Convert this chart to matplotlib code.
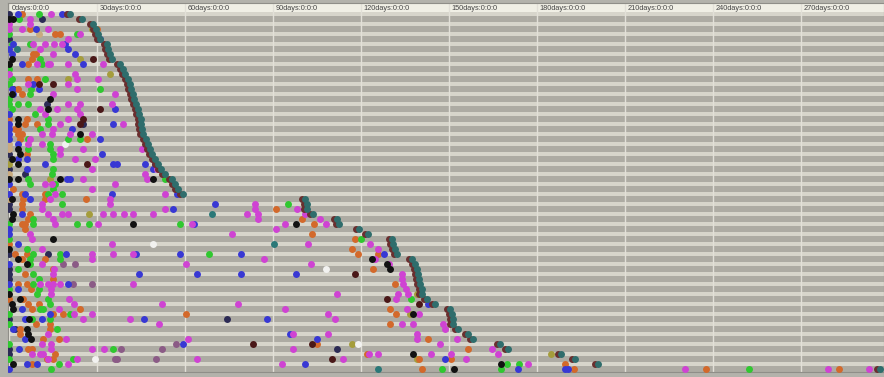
import matplotlib
matplotlib.use("Agg")
import matplotlib.pyplot as plt

# ---- event data: (row, day) pairs per event type ----
magenta_events = [
    (0, 14.3), (1, 7.2), (2, 0), (2, 7.2), (3, 0), (3, 4.4), (3, 13.3), (4, 24.2), (5, 20.1),
    (6, 8.2), (6, 12.3), (6, 15.3), (6, 18.1), (7, 10.6), (8, 15), (10, 9.5), (10, 13.3), (10, 14),
    (10, 20.1), (10, 32), (12, 0), (12, 22.5), (13, 23.2), (13, 30.3), (14, 6.5), (14, 20.1),
    (15, 23.2), (16, 15), (16, 36.1), (18, 20.1), (18, 24.2), (18, 35.1), (19, 10.6), (19, 16.4),
    (19, 23.2), (20, 12.3), (20, 24.2), (21, 20.1), (22, 17.4), (22, 38.9), (23, 15), (24, 11.3),
    (24, 14.7), (24, 20.8), (24, 28.3), (25, 7.2), (26, 6.5), (26, 11.3), (27, 17.4), (27, 25.2),
    (27, 45.4), (28, 17.4), (29, 22.5), (29, 29.3), (31, 28.3), (31, 50.5), (32, 46.4), (33, 25.2),
    (33, 47), (34, 12.3), (34, 14.7), (34, 36.1), (35, 28.3), (36, 15.7), (36, 53.2), (37, 14),
    (37, 34.4), (38, 11.3), (38, 34.4), (38, 83.9), (39, 11.3), (39, 53.2), (39, 83.9), (39, 98.2),
    (40, 13.3), (40, 18.1), (40, 20.1), (40, 32), (40, 35.5), (40, 39.2), (40, 42.3), (40, 49.1),
    (40, 81.2), (40, 85), (40, 101), (41, 15), (41, 85), (41, 106), (42, 15.7), (42, 30.3),
    (42, 62.4), (42, 94.1), (42, 108.1), (43, 91.1), (44, 7.2), (44, 76), (45, 7.8), (46, 35.1),
    (46, 102), (46, 123.1), (47, 11.3), (47, 125.8), (48, 28.3), (48, 35.5), (48, 42.3), (49, 28.3),
    (49, 87), (49, 124.8), (50, 11.3), (50, 60.4), (50, 103), (50, 129.6), (51, 15.4), (52, 15),
    (52, 134), (53, 134), (54, 10.6), (54, 13.3), (54, 15), (54, 17.4), (54, 42.3), (54, 134.4),
    (55, 14.3), (55, 135.4), (56, 14.3), (56, 111.8), (56, 132.6), (56, 136.1), (57, 20.5),
    (57, 132), (58, 22.2), (58, 52.2), (58, 78.1), (59, 17), (59, 94.1), (59, 135.7), (60, 22.2),
    (60, 28.3), (60, 108.8), (60, 139.8), (61, 25.2), (61, 41.3), (61, 111.2), (62, 51.2),
    (62, 134), (62, 137.8), (62, 148), (63, 148.7), (64, 13.3), (64, 96.8), (64, 108.8),
    (64, 139.1), (65, 19.4), (65, 61), (65, 139.1), (65, 152.8), (66, 11.3), (66, 14.3), (66, 147),
    (67, 14.3), (67, 28.3), (67, 32.4), (67, 96.8), (67, 164.7), (68, 7.8), (68, 10.6), (68, 11.6),
    (68, 122.8), (68, 125.8), (68, 143.9), (68, 150.7), (68, 166.7), (69, 13.3), (69, 23.2),
    (69, 64.1), (69, 113.9), (69, 155.8), (70, 20.1), (70, 93.1), (70, 177), (71, 230.5),
    (71, 279.3), (71, 293.3),
]
blue_events = [
    (0, 3), (0, 18.1), (0, 19.8), (3, 9.2), (5, 31), (6, 1.4), (6, 19.1), (7, 0), (7, 20.1), (8, 1),
    (8, 22.5), (10, 4.4), (10, 25.2), (14, 8.2), (15, 1), (15, 10.2), (16, 1.4), (19, 36.1), (20, 0),
    (22, 0), (22, 35.5), (23, 0), (23, 21.5), (24, 0), (25, 0), (25, 31), (26, 3), (28, 31.7),
    (29, 3), (29, 6.1), (30, 12.3), (30, 35.5), (30, 36.8), (30, 46.4), (30, 49.8), (31, 6.1),
    (31, 49.1), (33, 19.8), (33, 20.8), (34, 0), (36, 0), (36, 5.5), (36, 35.1), (36, 57.3), (37, 7.2),
    (38, 70.2), (39, 55.9), (40, 4.4), (42, 63.1), (43, 0), (44, 0), (46, 3), (48, 19.4), (48, 43.3),
    (48, 58.3), (48, 79.1), (48, 127.9), (50, 0), (52, 44.3), (52, 64.1), (52, 79.1), (52, 97.9),
    (54, 0), (54, 20.1), (55, 3), (58, 142.9), (59, 4.4), (60, 14), (61, 5.5), (61, 11.3), (61, 46),
    (61, 88), (63, 1.4), (64, 95.8), (65, 5.5), (65, 105), (66, 59.3), (67, 3.4), (69, 148.7),
    (70, 6.1), (70, 9.5), (70, 101), (71, 0), (71, 173.6), (71, 189.6), (71, 190.6),
]
green_events = [
    (0, 10.2), (1, 3.4), (4, 0), (4, 23.2), (6, 1), (6, 7.2), (9, 10.6), (10, 11.3), (11, 0), (13, 1),
    (13, 12.3), (14, 0), (15, 7.5), (15, 31), (16, 7.2), (17, 0), (18, 0), (18, 3), (18, 6.5), (19, 1),
    (20, 8.9), (21, 13.3), (22, 13.3), (23, 10.6), (25, 6.5), (25, 20.1), (25, 24.2), (26, 14),
    (27, 6.5), (27, 14), (28, 15), (29, 15), (31, 15), (32, 14.7), (33, 6.5), (33, 53.2), (34, 7.2),
    (34, 15.7), (35, 15), (36, 13.3), (36, 18.1), (38, 18.1), (38, 95.1), (41, 8.2), (42, 0),
    (42, 8.2), (42, 23.2), (42, 27.3), (42, 58.3), (45, 0), (45, 120), (47, 6.1), (48, 8.2),
    (48, 17.4), (48, 68.2), (49, 7.2), (49, 17.4), (50, 7.2), (51, 3), (52, 8.2), (53, 10.2),
    (54, 8.2), (55, 0), (55, 10.2), (56, 9.5), (57, 13.3), (57, 137.1), (58, 14), (59, 10.6),
    (59, 11.6), (60, 0), (60, 20.8), (61, 7.8), (61, 14), (62, 0), (63, 16.4), (66, 0), (67, 35.5),
    (69, 0), (69, 21.8), (70, 17), (70, 169.8), (70, 173.9), (71, 14.3), (71, 147.7), (71, 167.8),
    (71, 252.3),
]
orange_events = [
    (0, 4.4), (3, 7.2), (3, 30), (4, 15.7), (4, 17.4), (8, 8.2), (8, 9.2), (9, 7.8), (10, 6.5),
    (13, 6.5), (13, 9.5), (15, 3), (16, 4.4), (21, 0), (21, 6.1), (22, 5.5), (22, 9.5), (23, 2),
    (23, 3), (24, 3), (24, 4.4), (25, 3.8), (25, 26.6), (28, 6.1), (35, 1.4), (36, 4.4), (36, 12.3),
    (37, 4.8), (37, 12.3), (37, 26.3), (38, 4.4), (39, 4.4), (39, 91.1), (40, 7.2), (41, 6.5),
    (41, 99.9), (42, 4.4), (42, 5.5), (42, 104), (43, 5.5), (44, 103.3), (45, 118), (46, 0),
    (47, 117), (48, 2), (48, 6.1), (48, 119), (48, 125.8), (49, 4.4), (49, 12.3), (51, 15),
    (51, 124.1), (52, 5.5), (53, 15), (54, 3), (54, 6.1), (54, 131.6), (55, 7.5), (57, 0), (57, 4.8),
    (58, 6.5), (58, 10.2), (59, 7.8), (59, 24.2), (59, 129.9), (60, 15), (60, 18.4), (60, 60.4),
    (60, 132), (62, 9.2), (62, 14), (62, 129.9), (63, 3.8), (63, 14), (64, 3.8), (65, 11.6),
    (65, 17), (65, 142.9), (66, 105), (67, 6.5), (67, 7.8), (67, 156.5), (68, 15.7), (68, 122.1),
    (69, 13), (69, 15), (69, 139.8), (69, 150.7), (70, 7.8), (70, 189.6), (71, 140.8), (71, 192.7),
    (71, 237.7), (71, 283),
]
black_events = [
    (1, 0), (1, 1.4), (9, 1), (10, 0), (16, 1), (17, 14), (19, 13.3), (21, 3), (22, 3), (24, 24.2),
    (27, 3), (28, 3.8), (29, 1), (30, 3), (33, 0), (33, 3), (33, 17.4), (33, 49.1), (37, 1),
    (40, 1.4), (41, 1), (42, 42.3), (42, 97.9), (45, 15), (47, 0), (49, 3), (49, 123.8), (50, 6.1),
    (50, 128.9), (51, 129.9), (56, 0), (57, 3.8), (58, 1), (59, 1.4), (60, 137.8), (61, 6.8),
    (63, 6.1), (64, 6.5), (65, 7.5), (68, 137.8), (70, 1.4), (70, 167.8), (71, 151.7),
]
navy_events = [
    (0, 0), (1, 11.3), (5, 0), (15, 1.4), (18, 13), (22, 25.2), (28, 0), (31, 0), (32, 5.5), (38, 0),
    (39, 0), (48, 0), (48, 13.3), (51, 0), (52, 0), (53, 0), (61, 0), (61, 74.3), (63, 2), (67, 0),
    (67, 111.8), (68, 0),
]
maroon_events = [
    (9, 28.6), (14, 10.2), (14, 15), (19, 31), (21, 25.2), (22, 24.2), (30, 26.6), (52, 118),
    (57, 128.9), (58, 139.8), (66, 83.2), (66, 103.3), (69, 110.1),
]
olive_events = [
    (3, 28.3), (9, 24.2), (12, 34.4), (13, 20.1), (30, 0), (33, 14), (40, 27.3), (56, 139.1),
    (60, 136.7), (66, 117), (68, 184.8), (69, 139.1),
]
tan_events = [(4, 10.2), (26, 0), (27, 0), (32, 0), (37, 0)]
mauve_events = [
    (50, 18.4), (50, 22.5), (54, 21.8), (54, 28.3), (66, 57), (67, 38.2), (67, 52.2), (69, 36.1),
    (69, 36.8), (69, 50.1),
]
white_events = [(26, 19.1), (46, 49.1), (51, 108.1), (66, 119), (69, 29.3)]
teal_events = [(7, 2.7), (40, 69.2), (46, 90.4), (71, 125.8)]

# day on which each row's case closes
end_days = [
    20.8, 24.9, 28.6, 29.7, 30.3, 31.0, 33.4, 33.8, 34.4, 35.1,
    37.8, 38.9, 39.5, 40.6, 41.2, 41.6, 42.3, 42.6, 43.3, 44.0,
    44.3, 45.0, 45.0, 45.3, 45.7, 46.7, 47.4, 48.1, 48.8, 49.8,
    50.8, 51.8, 53.2, 55.6, 56.6, 57.6, 59.3, 100.9, 101.6, 101.6,
    103.6, 111.8, 112.5, 119.3, 122.4, 130.6, 130.9, 131.6, 132.3, 137.4,
    138.4, 139.1, 139.4, 139.8, 140.1, 140.8, 140.8, 142.5, 145.2, 150.3,
    151.0, 151.4, 151.4, 153.1, 156.5, 158.2, 167.4, 170.1, 188.2, 193.0,
    200.8, 296.9,
]

tick_days = [0, 30, 60, 90, 120, 150, 180, 210, 240, 270]
tick_labels = [f"{d}days:0:0:0" for d in tick_days]

# ---- styling ----
series = [
    (navy_events, "#2c2b55"),
    (tan_events, "#c9ab7f"),
    (olive_events, "#a59d3c"),
    (mauve_events, "#8b5b86"),
    (white_events, "#f2f2f0"),
    (orange_events, "#d3692b"),
    (green_events, "#30c830"),
    (blue_events, "#3838d4"),
    (magenta_events, "#cf43d3"),
    (maroon_events, "#4a1818"),
    (black_events, "#121212"),
    (teal_events, "#2a7878"),
]

W, H = 884, 377
fig = plt.figure(figsize=(W / 100, H / 100), dpi=100)
fig.patch.set_facecolor("#b3b2ab")

left_px, right_px, top_px, bottom_px = 8, 884, 3, 372
ax = fig.add_axes([left_px / W, (H - bottom_px) / H,
                   (right_px - left_px) / W, (bottom_px - top_px) / H])

n_rows = len(end_days)
px_per_day = 2.933
day0_px = 9
ax.set_xlim((left_px - day0_px) / px_per_day, (right_px - day0_px) / px_per_day)
row0_px, row_px = 14, 5
ax.set_ylim((bottom_px - row0_px) / row_px, (top_px - row0_px) / row_px)

ax.set_facecolor("#adaba3")
for r in range(0, n_rows, 2):
    ax.axhspan(r - 0.4, r + 0.4, color="#d7d5cb", lw=0, zorder=0)
ax.axhspan((top_px - row0_px) / row_px, -0.5, color="#f0efe5", lw=0, zorder=0.5)

for d in tick_days:
    ax.axvline(d, color="#e2e0d8", lw=1.0, zorder=1)

header_y = (8.3 - row0_px) / row_px
for d, lab in zip(tick_days, tick_labels):
    ax.text(d + 0.9, header_y, lab, fontsize=5.3, family=["Liberation Sans", "DejaVu Sans"],
            color="#444444", va="center", ha="left", zorder=2)

dot_size = 25
for events, color in series:
    rows = [e[0] for e in events]
    days = [e[1] for e in events]
    ax.scatter(days, rows, s=dot_size, color=color, linewidths=0, zorder=3)

rows_all = list(range(n_rows))
ax.scatter([d - 1.0 for d in end_days], rows_all, s=dot_size, color="#6a2f2f",
           linewidths=0, zorder=4)
ax.scatter(end_days, rows_all, s=dot_size, color="#2f6d6c", linewidths=0, zorder=5)

ax.set_xticks([])
ax.set_yticks([])
for side, sp in ax.spines.items():
    sp.set_color("#8f8e88")
    sp.set_linewidth(0.8)

fig.savefig("out.png", dpi=100, facecolor=fig.get_facecolor())
